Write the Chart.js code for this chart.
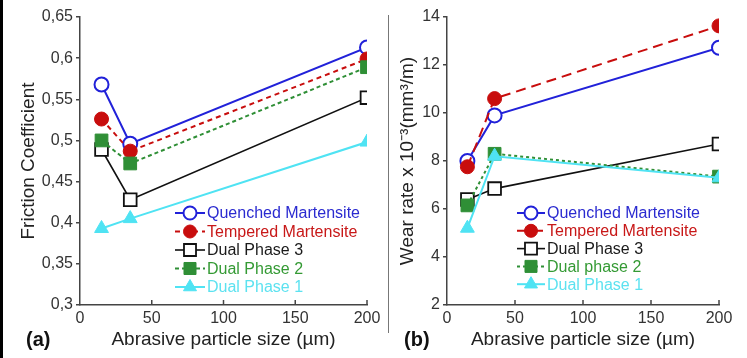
<!DOCTYPE html>
<html lang="en">
<head>
  <meta charset="UTF-8" />
  <title>Friction and wear vs abrasive particle size</title>
  <script src="https://cdn.jsdelivr.net/npm/chart.js"></script>
  <style>
    body { margin: 0; background: #fff; font-family: "Liberation Sans", Arial, sans-serif; }
    #wrap { position: relative; width: 747px; height: 358px; overflow: hidden; }
    #edge { position: absolute; left: 0; top: 0; width: 3px; height: 358px; background: #000; }
    #sep { position: absolute; left: 388px; top: 15px; width: 1px; height: 318px; background: #777; }
    .tag { position: absolute; top: 328px; font-weight: bold; font-size: 20px; color: #111; }
    canvas { position: absolute; top: 0; }
  </style>
</head>
<body>
<div id="wrap">
  <canvas id="friction" width="388" height="358" style="left:0"></canvas>
  <canvas id="wear" width="357" height="358" style="left:390px"></canvas>
  <div id="edge"></div>
  <div id="sep"></div>
  <div class="tag" style="left:26px">(a)</div>
  <div class="tag" style="left:404px">(b)</div>
</div>

<script>
  // Data
  const sizes = [15, 35, 200];

  const frictionTicks = [0.3, 0.35, 0.4, 0.45, 0.5, 0.55, 0.6, 0.65];
  const qmFriction = [0.568, 0.496, 0.613];
  const tmFriction = [0.526, 0.487, 0.599];
  const dp3Friction = [0.489, 0.428, 0.552];
  const dp2Friction = [0.500, 0.472, 0.589];
  const dp1Friction = [0.393, 0.405, 0.498];

  const wearTicks = [2, 4, 6, 8, 10, 12, 14];
  const qmWear = [8.0, 9.9, 12.72];
  const tmWear = [7.76, 10.6, 13.63];
  const dp3Wear = [6.4, 6.85, 8.71];
  const dp2Wear = [6.15, 8.3, 7.35];
  const dp1Wear = [5.2, 8.2, 7.3];

  const labelsA = ["Quenched Martensite", "Tempered Martensite", "Dual Phase 3", "Dual Phase 2", "Dual Phase 1"];
  const labelsB = ["Quenched Martensite", "Tempered Martensite", "Dual Phase 3", "Dual phase 2", "Dual Phase 1"];

  const FONT = '"Liberation Sans", Arial, sans-serif';
  const AXIS = "#444";
  const colors = ["#2121d9", "#c80d0d", "#111111", "#2f8f36", "#4fe3f3"];
  const textColors = ["#2a2ad0", "#c81818", "#1a1a1a", "#349a34", "#5ce2f0"];

  function xy(values) {
    return values.map((v, i) => ({ x: sizes[i], y: v }));
  }

  function makeSets(series, labels, dashes) {
    const styles = [
      { pointStyle: "circle", backgroundColor: "#fff", borderWidth: 2, pointBorderWidth: 2, radius: 7 },
      { pointStyle: "circle", backgroundColor: colors[1], borderWidth: 2, pointBorderWidth: 1, radius: 7 },
      { pointStyle: "rect", backgroundColor: "#fff", borderWidth: 1.6, pointBorderWidth: 1.8, radius: 9 },
      { pointStyle: "rect", backgroundColor: colors[3], borderWidth: 2, pointBorderWidth: 1, radius: 9 },
      { pointStyle: "triangle", backgroundColor: colors[4], borderWidth: 2, pointBorderWidth: 1, radius: 8 }
    ];
    return series.map((vals, i) => ({
      label: labels[i],
      data: xy(vals),
      borderColor: colors[i],
      backgroundColor: styles[i].backgroundColor,
      pointBackgroundColor: styles[i].backgroundColor,
      pointBorderColor: colors[i],
      pointBorderWidth: styles[i].pointBorderWidth,
      pointStyle: styles[i].pointStyle,
      pointRadius: styles[i].radius,
      borderWidth: styles[i].borderWidth,
      borderDash: dashes[i],
      tension: 0,
      fill: false,
      order: 5 - i,
      legendText: textColors[i]
    }));
  }

  // legend drawn inside the plot, line + marker + coloured text
  const innerLegend = {
    id: "innerLegend",
    afterDraw(chart, args, opts) {
      const ctx = chart.ctx;
      ctx.save();
      chart.data.datasets.forEach((ds, i) => {
        const y = opts.y + i * opts.step;
        ctx.strokeStyle = ds.borderColor;
        ctx.lineWidth = ds.borderWidth;
        ctx.setLineDash(ds.borderDash || []);
        ctx.beginPath();
        ctx.moveTo(opts.x, y);
        ctx.lineTo(opts.x + opts.len, y);
        ctx.stroke();
        ctx.setLineDash([]);
        ctx.fillStyle = ds.pointBackgroundColor;
        ctx.strokeStyle = ds.pointBorderColor;
        ctx.lineWidth = ds.pointBorderWidth;
        Chart.helpers.drawPoint(ctx, {
          pointStyle: ds.pointStyle,
          radius: ds.pointRadius - 0.5,
          borderWidth: ds.pointBorderWidth,
          rotation: 0
        }, opts.x + opts.len / 2, y);
        ctx.fillStyle = ds.legendText;
        ctx.font = "16px " + FONT;
        ctx.textBaseline = "middle";
        ctx.fillText(ds.label, opts.x + opts.len + 2, y + 1);
      });
      ctx.restore();
    }
  };

  // short x ticks pointing into the plot
  const innerTicks = {
    id: "innerTicks",
    afterDraw(chart) {
      const s = chart.scales.x;
      const ctx = chart.ctx;
      ctx.save();
      ctx.strokeStyle = AXIS;
      ctx.lineWidth = 1.5;
      s.ticks.forEach(t => {
        if (t.value === 0) return;
        const px = s.getPixelForValue(t.value);
        ctx.beginPath();
        ctx.moveTo(px, s.top);
        ctx.lineTo(px, s.top - 5);
        ctx.stroke();
      });
      ctx.restore();
    }
  };

  function makeChart(id, datasets, cfg) {
    return new Chart(document.getElementById(id), {
      type: "line",
      data: { datasets },
      plugins: [innerLegend, innerTicks],
      options: {
        responsive: false,
        animation: false,
        layout: { padding: { left: 0, top: 17, right: cfg.right, bottom: 0 } },
        plugins: {
          legend: { display: false },
          tooltip: { enabled: false },
          innerLegend: cfg.legend
        },
        scales: {
          x: {
            type: "linear",
            min: 0, max: 200,
            afterFit: s => { s.height = 53; },
            ticks: { stepSize: 50, color: "#333", font: { size: 16, family: FONT }, padding: 4, maxRotation: 0 },
            grid: { drawOnChartArea: false, drawTicks: false },
            border: { color: AXIS, width: 1.5 },
            title: { display: true, text: "Abrasive particle size (µm)", color: "#222",
                     font: { size: 19, family: FONT }, padding: { top: 0, bottom: 7 } }
          },
          y: {
            min: cfg.ticks[0], max: cfg.ticks[cfg.ticks.length - 1],
            afterFit: s => { s.width = cfg.yWidth; },
            afterBuildTicks: s => { s.ticks = cfg.ticks.map(v => ({ value: v })); },
            ticks: {
              color: "#333", font: { size: 16, family: FONT }, padding: 3,
              callback: v => String(Math.round(v * 100) / 100).replace(".", ",")
            },
            grid: { drawOnChartArea: false, tickLength: 4, color: AXIS, lineWidth: 1.5 },
            border: { color: AXIS, width: 1.5 },
            title: { display: true, text: cfg.yTitle, color: "#222",
                     font: { size: 19, family: FONT }, padding: { top: cfg.yTitlePad, bottom: 0 } }
          }
        }
      }
    });
  }

  makeChart("friction",
    makeSets([qmFriction, tmFriction, dp3Friction, dp2Friction, dp1Friction], labelsA,
      [[], [5, 4], [], [4, 3], []]),
    { right: 21, yWidth: 80, ticks: frictionTicks, yTitle: "Friction Coefficient", yTitlePad: 17,
      legend: { x: 175, y: 213, step: 18.5, len: 30 } });

  makeChart("wear",
    makeSets([qmWear, tmWear, dp3Wear, dp2Wear, dp1Wear], labelsB,
      [[], [10, 6], [], [3, 3], []]),
    { right: 28, yWidth: 57, ticks: wearTicks, yTitle: "Wear rate x 10⁻³(mm³/m)", yTitlePad: 6,
      legend: { x: 127, y: 213, step: 17.8, len: 28 } });
</script>
</body>
</html>
